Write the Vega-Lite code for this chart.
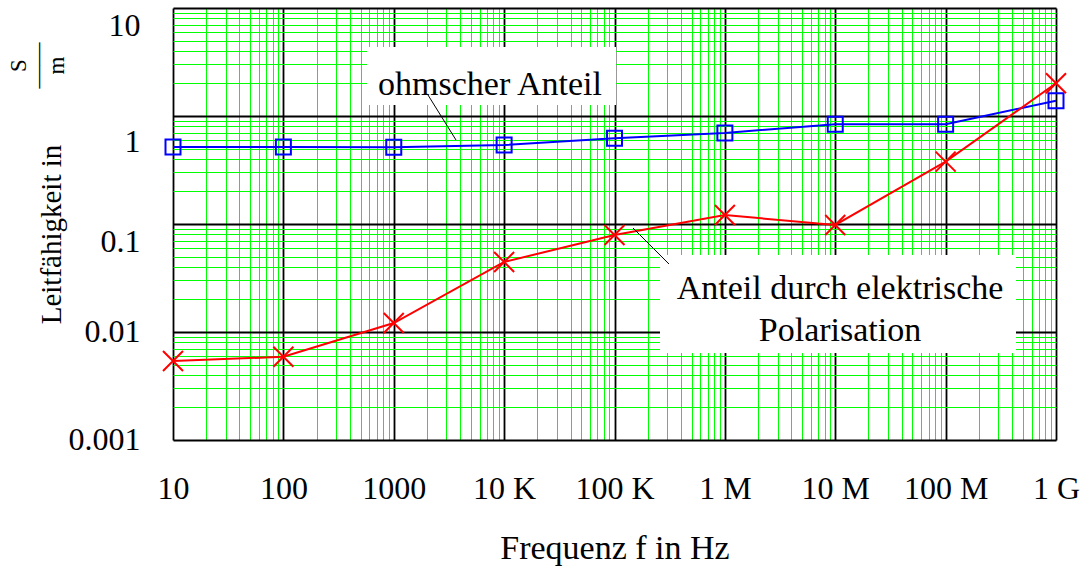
{
  "$schema": "https://vega.github.io/schema/vega-lite/v6.json",
  "width": 883,
  "height": 432,
  "autosize": "none",
  "padding": {"left": 173, "top": 8, "right": 32, "bottom": 128},
  "background": "white",
  "config": {
    "view": {"stroke": null},
    "font": "Liberation Serif",
    "axis": {"labelFont": "Liberation Serif", "titleFont": "Liberation Serif", "labelColor": "black", "titleColor": "black", "titleFontWeight": "normal"}
  },
  "datasets": {
    "series": [
      {"f": 10, "g": 0.516, "s": "ohmscher Anteil"},
      {"f": 100, "g": 0.516, "s": "ohmscher Anteil"},
      {"f": 1000, "g": 0.513, "s": "ohmscher Anteil"},
      {"f": 10000, "g": 0.538, "s": "ohmscher Anteil"},
      {"f": 100000, "g": 0.622, "s": "ohmscher Anteil"},
      {"f": 1000000, "g": 0.697, "s": "ohmscher Anteil"},
      {"f": 10000000, "g": 0.838, "s": "ohmscher Anteil"},
      {"f": 100000000, "g": 0.838, "s": "ohmscher Anteil"},
      {"f": 1000000000, "g": 1.386, "s": "ohmscher Anteil"},
      {"f": 10, "g": 0.00539, "s": "Polarisation"},
      {"f": 100, "g": 0.0059, "s": "Polarisation"},
      {"f": 1000, "g": 0.0121, "s": "Polarisation"},
      {"f": 10000, "g": 0.0445, "s": "Polarisation"},
      {"f": 100000, "g": 0.0791, "s": "Polarisation"},
      {"f": 1000000, "g": 0.121, "s": "Polarisation"},
      {"f": 10000000, "g": 0.098, "s": "Polarisation"},
      {"f": 100000000, "g": 0.378, "s": "Polarisation"},
      {"f": 1000000000, "g": 2.01, "s": "Polarisation"}
    ],
    "boxes": [
      {"xa": 572.5, "xb": 103180, "ya": 4.355, "yb": 1.264},
      {"xa": 258400, "xb": 434000000, "ya": 0.0516, "yb": 0.00639}
    ],
    "leaders": [
      {"xa": 2043, "ya": 1.565, "xb": 3664, "yb": 0.5995},
      {"xa": 147100, "ya": 0.0918, "xb": 311700, "yb": 0.0426}
    ],
    "notes": [
      {"x": 7447, "y": 1.565, "label": "ohmscher Anteil"},
      {"x": 11040000, "y": 0.0202, "label": "Anteil durch elektrische\nPolarisation"}
    ]
  },
  "resolve": {"axis": {"x": "independent", "y": "independent"}},
  "layer": [
    {
      "data": {"name": "series"},
      "mark": {"type": "line", "strokeWidth": 2},
      "encoding": {
        "x": {
          "field": "f", "type": "quantitative",
          "scale": {"type": "log", "domain": [10, 1000000000], "nice": false},
          "axis": {
            "title": "Frequenz f in Hz",
            "titleFontSize": 34,
            "titleY": 118,
            "titleBaseline": "alphabetic",
            "values": [20,30,40,50,60,70,80,90,200,300,400,500,600,700,800,900,2000,3000,4000,5000,6000,7000,8000,9000,20000,30000,40000,50000,60000,70000,80000,90000,200000,300000,400000,500000,600000,700000,800000,900000,2000000,3000000,4000000,5000000,6000000,7000000,8000000,9000000,20000000,30000000,40000000,50000000,60000000,70000000,80000000,90000000,200000000,300000000,400000000,500000000,600000000,700000000,800000000,900000000,10,100,1000,10000,100000,1000000,10000000,100000000,1000000000],
            "domain": false,
            "ticks": false,
            "labelFlush": false,
            "labelOverlap": false,
            "labelFontSize": 32,
            "labelPadding": 33,
            "labelBaseline": "top",
            "labelExpr": "abs(log(datum.value)/LN10 - round(log(datum.value)/LN10)) < 0.001 ? (datum.value < 50 ? '10' : datum.value < 500 ? '100' : datum.value < 5000 ? '1000' : datum.value < 50000 ? '10 K' : datum.value < 500000 ? '100 K' : datum.value < 5000000 ? '1 M' : datum.value < 50000000 ? '10 M' : datum.value < 500000000 ? '100 M' : '1 G') : ''",
            "grid": true,
            "gridColor": {"condition": {"test": "abs(log(datum.value)/LN10 - round(log(datum.value)/LN10)) < 0.001", "value": "#000000"}, "value": "#00ff00"},
            "gridWidth": {"condition": {"test": "abs(log(datum.value)/LN10 - round(log(datum.value)/LN10)) < 0.001", "value": 1.8}, "value": 1},
            "gridOpacity": 1
          }
        },
        "y": {
          "field": "g", "type": "quantitative",
          "scale": {"type": "log", "domain": [0.001, 10], "nice": false},
          "axis": {
            "title": "Leitfähigkeit in",
            "titleFontSize": 29,
            "titleAngle": -90,
            "titleX": -113,
            "titleY": 226,
            "titleAlign": "center",
            "titleBaseline": "alphabetic",
            "values": [0.002,0.003,0.004,0.005,0.006,0.007,0.008,0.009,0.02,0.03,0.04,0.05,0.06,0.07,0.08,0.09,0.2,0.3,0.4,0.5,0.6,0.7,0.8,0.9,2,3,4,5,6,7,8,9,0.001,0.01,0.1,1,10],
            "domain": false,
            "ticks": false,
            "labelOverlap": false,
            "labelFlush": false,
            "labelFontSize": 32,
            "labelPadding": 33,
            "labelBaseline": "middle",
            "labelOffset": {"expr": "datum.value > 5 ? 17 : datum.value > 0.5 ? 25 : datum.value > 0.05 ? 17 : -1"},
            "labelExpr": "abs(log(datum.value)/LN10 - round(log(datum.value)/LN10)) < 0.001 ? (datum.value > 5 ? '10' : datum.value > 0.5 ? '1' : datum.value > 0.05 ? '0.1' : datum.value > 0.005 ? '0.01' : '0.001') : ''",
            "grid": true,
            "gridColor": {"condition": {"test": "abs(log(datum.value)/LN10 - round(log(datum.value)/LN10)) < 0.001", "value": "#000000"}, "value": "#00ff00"},
            "gridWidth": {"condition": {"test": "abs(log(datum.value)/LN10 - round(log(datum.value)/LN10)) < 0.001", "value": 1.8}, "value": 1},
            "gridOpacity": 1
          }
        },
        "color": {"field": "s", "type": "nominal", "scale": {"domain": ["ohmscher Anteil", "Polarisation"], "range": ["#0000ff", "#ff0000"]}, "legend": null}
      }
    },
    {
      "data": {"name": "boxes"},
      "mark": {"type": "rect", "fill": "white", "stroke": null},
      "encoding": {
        "x": {"field": "xa", "type": "quantitative", "axis": null},
        "x2": {"field": "xb"},
        "y": {"field": "ya", "type": "quantitative", "axis": null},
        "y2": {"field": "yb"}
      }
    },
    {
      "data": {"name": "series"},
      "transform": [{"filter": "datum.s == 'ohmscher Anteil'"}],
      "mark": {"type": "point", "shape": "square", "filled": false, "stroke": "#0000ff", "strokeWidth": 2, "size": 225, "opacity": 1},
      "encoding": {
        "x": {"field": "f", "type": "quantitative", "axis": null},
        "y": {
          "field": "g", "type": "quantitative",
          "axis": {
            "orient": "right",
            "title": ["S", "——", "m"],
            "titleFontSize": 23,
            "titleLineHeight": 19,
            "titleAngle": -90,
            "titleX": -1031,
            "titleY": 57,
            "titleAlign": "center",
            "titleBaseline": "alphabetic",
            "labels": false,
            "ticks": false,
            "domain": false,
            "grid": false
          }
        }
      }
    },
    {
      "data": {"name": "series"},
      "transform": [{"filter": "datum.s == 'Polarisation'"}],
      "mark": {"type": "point", "shape": "M-1,-1L1,1M1,-1L-1,1", "filled": false, "stroke": "#ff0000", "strokeWidth": 2, "size": 400, "opacity": 1},
      "encoding": {
        "x": {"field": "f", "type": "quantitative", "axis": null},
        "y": {"field": "g", "type": "quantitative", "axis": null}
      }
    },
    {
      "data": {"name": "leaders"},
      "mark": {"type": "rule", "color": "black", "strokeWidth": 1},
      "encoding": {
        "x": {"field": "xa", "type": "quantitative", "axis": null},
        "x2": {"field": "xb"},
        "y": {"field": "ya", "type": "quantitative", "axis": null},
        "y2": {"field": "yb"}
      }
    },
    {
      "data": {"name": "notes"},
      "mark": {"type": "text", "font": "Liberation Serif", "fontSize": 34, "color": "black", "align": "center", "baseline": "alphabetic", "lineBreak": "\n", "lineHeight": 42},
      "encoding": {
        "x": {"field": "x", "type": "quantitative", "axis": null},
        "y": {"field": "y", "type": "quantitative", "axis": null},
        "text": {"field": "label"}
      }
    }
  ]
}
